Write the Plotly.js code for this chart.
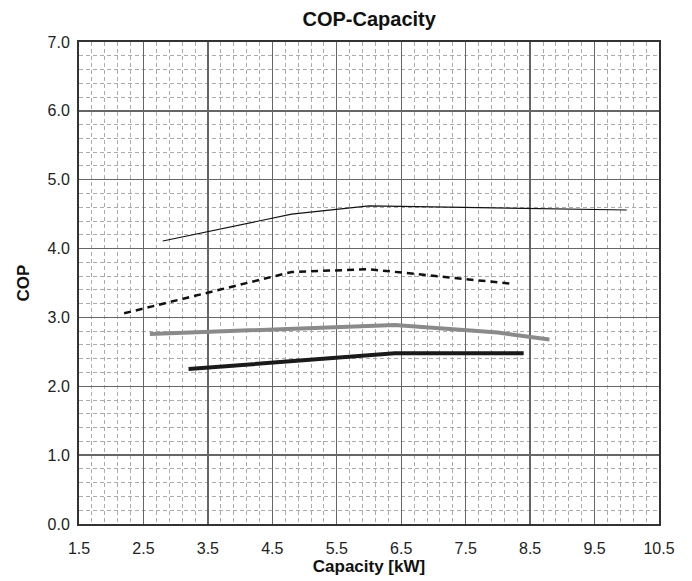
<!DOCTYPE html>
<html>
<head>
<meta charset="utf-8">
<script src="https://cdn.plot.ly/plotly-3.0.1.min.js"></script>
<style>html,body{margin:0;padding:0;background:#fff;}#chart{width:692px;height:581px;}</style>
</head>
<body>
<div id="chart"></div>
<script>
// Series data
const line1X = [2.8, 4.8, 6.0, 10.0];
const line1Y = [4.11, 4.50, 4.62, 4.56];

const line2X = [2.2, 4.8, 6.0, 8.2];
const line2Y = [3.06, 3.66, 3.70, 3.49];

const line3X = [2.6, 6.4, 8.0, 8.8];
const line3Y = [2.76, 2.89, 2.78, 2.68];

const line4X = [3.2, 6.4, 8.0, 8.4];
const line4Y = [2.25, 2.48, 2.48, 2.48];

const xTicks = [1.5, 2.5, 3.5, 4.5, 5.5, 6.5, 7.5, 8.5, 9.5, 10.5];
const xTickText = ['1.5', '2.5', '3.5', '4.5', '5.5', '6.5', '7.5', '8.5', '9.5', '10.5'];
const yTicks = [0, 1, 2, 3, 4, 5, 6, 7];
const yTickText = ['0.0', '1.0', '2.0', '3.0', '4.0', '5.0', '6.0', '7.0'];

const traces = [
  {x: line1X, y: line1Y, mode: 'lines', line: {color: '#111', width: 1.2}},
  {x: line2X, y: line2Y, mode: 'lines', line: {color: '#111', width: 2.5, dash: '7px,5px'}},
  {x: line3X, y: line3Y, mode: 'lines', line: {color: '#8a8a8a', width: 4}},
  {x: line4X, y: line4Y, mode: 'lines', line: {color: '#1a1a1a', width: 4}}
];

const font = 'Liberation Sans, Arial, sans-serif';
const layout = {
  width: 692, height: 581,
  margin: {l: 79, r: 33, t: 42, b: 57},
  paper_bgcolor: '#fff', plot_bgcolor: '#fff',
  showlegend: false,
  font: {family: font, color: '#222', size: 16},
  title: {text: '<b>COP-Capacity</b>', x: 0.5335, xanchor: 'center', y: 0.967, yanchor: 'middle', font: {family: font, size: 20, color: '#111'}},
  xaxis: {
    range: [1.5, 10.5], tickmode: 'array', tickvals: xTicks, ticktext: xTickText,
    showgrid: true, gridcolor: '#666', gridwidth: 1.3,
    zeroline: false, showline: true, mirror: true, linecolor: '#333', linewidth: 2,
    ticks: 'outside', ticklen: 9, tickcolor: 'rgba(0,0,0,0)',
    tickfont: {size: 16, color: '#222'},
    minor: {tickmode: 'linear', tick0: 1.5, dtick: 0.2, showgrid: true, gridcolor: '#ababab', griddash: '4px,3px', gridwidth: 1},
    title: {text: '<b>Capacity [kW]</b>', font: {size: 17, color: '#111'}, standoff: 2}
  },
  yaxis: {
    range: [0, 7], tickmode: 'array', tickvals: yTicks, ticktext: yTickText,
    showgrid: true, gridcolor: '#666', gridwidth: 1.3,
    zeroline: false, showline: true, mirror: true, linecolor: '#333', linewidth: 2,
    ticks: 'outside', ticklen: 4, tickcolor: 'rgba(0,0,0,0)',
    tickfont: {size: 16, color: '#222'},
    minor: {tickmode: 'linear', tick0: 0, dtick: 0.2, showgrid: true, gridcolor: '#ababab', griddash: '4px,3px', gridwidth: 1},
    title: {text: '<b>COP</b>', font: {size: 17, color: '#111'}, standoff: 14}
  }
};

Plotly.newPlot('chart', traces, layout, {displayModeBar: false, staticPlot: true});
</script>
</body>
</html>
